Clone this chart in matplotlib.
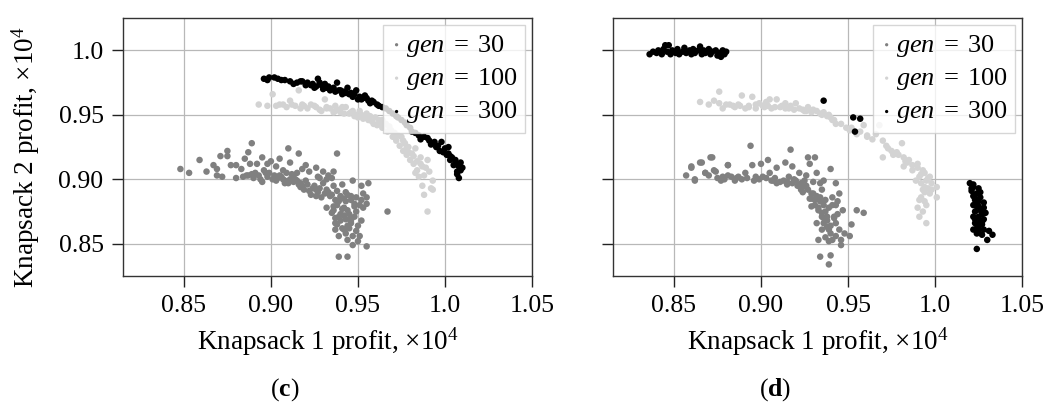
import numpy as np
import matplotlib
matplotlib.use('Agg')
import matplotlib.pyplot as plt

plt.rcParams['font.family'] = ['Liberation Serif', 'DejaVu Serif']
plt.rcParams['mathtext.fontset'] = 'custom'
plt.rcParams['mathtext.rm'] = 'Liberation Serif'
plt.rcParams['mathtext.it'] = 'Liberation Serif:italic'
plt.rcParams['mathtext.bf'] = 'Liberation Serif:bold'

# panel (c)
c30_x = [0.848, 0.853, 0.859, 0.863, 0.867, 0.871, 0.875, 0.875, 0.877, 0.880, 0.869, 0.872, 0.880,
         0.885, 0.887, 0.889, 0.892, 0.895, 0.898, 0.900, 0.905, 0.910, 0.916, 0.911, 0.920, 0.926,
         0.930, 0.936, 0.938, 0.886, 0.889, 0.894, 0.897, 0.901, 0.903, 0.907, 0.910, 0.913, 0.916,
         0.917, 0.920, 0.922, 0.925, 0.927, 0.930, 0.932, 0.934, 0.936, 0.938, 0.941, 0.940, 0.943,
         0.947, 0.949, 0.952, 0.956, 0.955, 0.955, 0.932, 0.935, 0.937, 0.937, 0.939, 0.941, 0.943,
         0.945, 0.946, 0.937, 0.939, 0.944, 0.947, 0.949, 0.951, 0.955, 0.939, 0.944, 0.948, 0.949,
         0.936, 0.939, 0.929, 0.926, 0.923, 0.919, 0.917, 0.914, 0.912, 0.909, 0.905, 0.899, 0.896,
         0.891, 0.887, 0.895, 0.908, 0.928, 0.932, 0.935, 0.943, 0.946, 0.952, 0.950, 0.942, 0.967,
         0.884, 0.890, 0.893, 0.898, 0.902, 0.904, 0.906, 0.908, 0.911, 0.913, 0.915, 0.918, 0.921,
         0.924, 0.926, 0.928, 0.931, 0.933, 0.935, 0.937, 0.940, 0.942, 0.944, 0.946, 0.948, 0.951,
         0.953, 0.940, 0.942, 0.944, 0.946, 0.938, 0.940, 0.942, 0.944, 0.946, 0.948, 0.941, 0.943,
         0.945, 0.947, 0.936, 0.938, 0.950, 0.952, 0.953, 0.883, 0.888, 0.903, 0.907, 0.915, 0.922,
         0.927, 0.933, 0.918, 0.869]
c30_y = [0.908, 0.905, 0.915, 0.906, 0.911, 0.918, 0.922, 0.918, 0.911, 0.911, 0.903, 0.902, 0.901,
         0.916, 0.921, 0.928, 0.912, 0.917, 0.912, 0.914, 0.916, 0.924, 0.920, 0.913, 0.911, 0.909,
         0.906, 0.906, 0.920, 0.903, 0.904, 0.900, 0.905, 0.900, 0.899, 0.900, 0.897, 0.903, 0.896,
         0.894, 0.899, 0.891, 0.895, 0.890, 0.897, 0.892, 0.887, 0.895, 0.891, 0.896, 0.886, 0.883,
         0.899, 0.886, 0.895, 0.897, 0.886, 0.881, 0.878, 0.874, 0.870, 0.866, 0.871, 0.877, 0.869,
         0.873, 0.866, 0.861, 0.856, 0.853, 0.849, 0.860, 0.856, 0.848, 0.840, 0.840, 0.879, 0.875,
         0.879, 0.883, 0.886, 0.887, 0.888, 0.892, 0.897, 0.900, 0.904, 0.905, 0.903, 0.905, 0.907,
         0.905, 0.903, 0.898, 0.897, 0.901, 0.900, 0.901, 0.890, 0.887, 0.884, 0.864, 0.861, 0.875,
         0.902, 0.901, 0.903, 0.902, 0.903, 0.901, 0.902, 0.899, 0.900, 0.898, 0.899, 0.895, 0.896,
         0.893, 0.892, 0.893, 0.889, 0.890, 0.888, 0.884, 0.887, 0.885, 0.888, 0.884, 0.881, 0.880,
         0.889, 0.873, 0.878, 0.876, 0.870, 0.880, 0.868, 0.872, 0.864, 0.868, 0.871, 0.862, 0.858,
         0.862, 0.856, 0.876, 0.865, 0.852, 0.868, 0.878, 0.908, 0.912, 0.910, 0.907, 0.905, 0.906,
         0.902, 0.903, 0.908, 0.908]

c100_x = [0.893, 0.898, 0.901, 0.907, 0.911, 0.916, 0.912, 0.917, 0.919, 0.923, 0.926, 0.931, 0.929,
          0.932, 0.937, 0.940, 0.943, 0.945, 0.948, 0.950, 0.953, 0.956, 0.959, 0.961, 0.964, 0.967,
          0.970, 0.972, 0.974, 0.976, 0.978, 0.980, 0.981, 0.982, 0.983, 0.984, 0.987, 0.985, 0.988,
          0.991, 0.987, 0.992, 0.988, 0.990, 0.993, 0.990, 0.986, 0.976, 0.964, 0.960, 0.955, 0.951,
          0.947, 0.941, 0.937, 0.932, 0.905, 0.993,
          0.903, 0.909, 0.914, 0.918, 0.921, 0.925, 0.928, 0.934, 0.936, 0.939, 0.942, 0.946, 0.949,
          0.952, 0.954, 0.957, 0.958, 0.962, 0.963, 0.966, 0.968, 0.969, 0.971, 0.973, 0.975, 0.977,
          0.979, 0.982, 0.979, 0.984, 0.986, 0.989, 0.983, 0.978]
c100_y = [0.958, 0.957, 0.966, 0.958, 0.961, 0.969, 0.958, 0.955, 0.957, 0.958, 0.956, 0.962, 0.953,
          0.955, 0.953, 0.952, 0.956, 0.951, 0.949, 0.948, 0.947, 0.946, 0.943, 0.942, 0.940, 0.937,
          0.933, 0.930, 0.926, 0.922, 0.919, 0.915, 0.920, 0.912, 0.924, 0.907, 0.910, 0.902, 0.903,
          0.906, 0.895, 0.893, 0.888, 0.875, 0.899, 0.915, 0.917, 0.930, 0.946, 0.948, 0.951, 0.953,
          0.953, 0.956, 0.957, 0.956, 0.958, 0.892,
          0.957, 0.956, 0.957, 0.958, 0.955, 0.957, 0.954, 0.955, 0.952, 0.954, 0.951, 0.952, 0.950,
          0.950, 0.948, 0.949, 0.945, 0.946, 0.944, 0.943, 0.941, 0.938, 0.936, 0.934, 0.933, 0.928,
          0.925, 0.918, 0.921, 0.914, 0.912, 0.909, 0.905, 0.925]

c300_x = [0.896, 0.899, 0.902, 0.906, 0.911, 0.915, 0.918, 0.921, 0.924, 0.927, 0.929, 0.932, 0.935,
          0.938, 0.939, 0.942, 0.944, 0.945, 0.948, 0.951, 0.954, 0.956, 0.959, 0.936, 0.931, 0.925,
          0.949, 0.952, 0.961, 0.964, 0.968, 0.972, 0.975, 0.978, 0.981, 0.985, 0.988, 0.991, 0.994,
          0.996, 0.998, 1.000, 1.002, 1.002, 1.004, 1.006, 1.005, 1.008, 1.007, 1.009, 1.008, 1.003,
          1.001, 0.997,
          0.898, 0.904, 0.908, 0.913, 0.917, 0.920, 0.923, 0.926, 0.928, 0.930, 0.933, 0.934, 0.937,
          0.940, 0.941, 0.943, 0.946, 0.947, 0.950, 0.953, 0.955, 0.957, 0.958, 0.962, 0.966, 0.970,
          0.973, 0.977, 0.980, 0.983, 0.986, 0.990, 0.992, 0.995, 0.999, 1.003, 1.006, 1.009, 1.007,
          1.010]
c300_y = [0.978, 0.979, 0.979, 0.977, 0.976, 0.975, 0.976, 0.975, 0.974, 0.978, 0.973, 0.971, 0.970,
          0.975, 0.969, 0.968, 0.971, 0.966, 0.966, 0.964, 0.965, 0.961, 0.960, 0.971, 0.974, 0.971,
          0.969, 0.962, 0.958, 0.956, 0.953, 0.949, 0.946, 0.942, 0.937, 0.934, 0.933, 0.930, 0.929,
          0.926, 0.929, 0.924, 0.925, 0.920, 0.917, 0.915, 0.911, 0.910, 0.904, 0.907, 0.901, 0.915,
          0.919, 0.922,
          0.977, 0.978, 0.977, 0.974, 0.976, 0.973, 0.973, 0.972, 0.975, 0.970, 0.972, 0.969, 0.968,
          0.969, 0.966, 0.967, 0.967, 0.964, 0.962, 0.963, 0.963, 0.959, 0.961, 0.957, 0.955, 0.951,
          0.948, 0.944, 0.940, 0.936, 0.931, 0.932, 0.927, 0.925, 0.921, 0.918, 0.912, 0.913, 0.906,
          0.909]

# panel (d)
d30_x = [0.857, 0.860, 0.866, 0.872, 0.862, 0.868, 0.874, 0.881, 0.894, 0.860, 0.865, 0.871, 0.862,
         0.868, 0.873, 0.877, 0.881, 0.881, 0.885, 0.891, 0.895, 0.896, 0.900, 0.901, 0.904, 0.907,
         0.909, 0.914, 0.913, 0.917, 0.918, 0.920, 0.924, 0.926, 0.927, 0.928, 0.931, 0.932, 0.934,
         0.929, 0.931, 0.933, 0.935, 0.932, 0.935, 0.933, 0.937, 0.935, 0.937, 0.939, 0.940, 0.942,
         0.943, 0.944, 0.945, 0.947, 0.946, 0.946, 0.952, 0.951, 0.955, 0.959, 0.934, 0.940, 0.939,
         0.916, 0.922, 0.905, 0.887, 0.878, 0.909, 0.915, 0.923, 0.928, 0.929, 0.936, 0.939, 0.943,
         0.948, 0.938, 0.941, 0.945, 0.936, 0.943, 0.934, 0.930, 0.925, 0.941,
         0.870, 0.875, 0.879, 0.883, 0.886, 0.889, 0.892, 0.897, 0.899, 0.903, 0.906, 0.908, 0.911,
         0.915, 0.918, 0.921, 0.919, 0.923, 0.926, 0.924, 0.927, 0.930, 0.929, 0.932, 0.934, 0.931,
         0.933, 0.936, 0.935, 0.937, 0.938, 0.936, 0.940, 0.938, 0.942, 0.940, 0.944, 0.939, 0.943,
         0.941]
d30_y = [0.903, 0.909, 0.913, 0.917, 0.899, 0.905, 0.906, 0.911, 0.926, 0.910, 0.913, 0.917, 0.900,
         0.905, 0.907, 0.899, 0.911, 0.903, 0.899, 0.905, 0.911, 0.899, 0.912, 0.902, 0.915, 0.899,
         0.909, 0.913, 0.899, 0.923, 0.910, 0.899, 0.894, 0.903, 0.917, 0.912, 0.917, 0.905, 0.897,
         0.889, 0.884, 0.876, 0.871, 0.866, 0.861, 0.853, 0.855, 0.892, 0.884, 0.878, 0.908, 0.871,
         0.897, 0.883, 0.861, 0.876, 0.853, 0.849, 0.865, 0.856, 0.876, 0.874, 0.840, 0.841, 0.834,
         0.902, 0.905, 0.905, 0.902, 0.902, 0.897, 0.896, 0.892, 0.885, 0.879, 0.866, 0.861, 0.866,
         0.858, 0.871, 0.886, 0.889, 0.899, 0.880, 0.886, 0.898, 0.899, 0.853,
         0.903, 0.901, 0.900, 0.902, 0.901, 0.900, 0.901, 0.902, 0.900, 0.901, 0.899, 0.901, 0.898,
         0.898, 0.897, 0.895, 0.900, 0.897, 0.895, 0.890, 0.892, 0.889, 0.885, 0.887, 0.883, 0.880,
         0.878, 0.880, 0.874, 0.875, 0.868, 0.870, 0.864, 0.863, 0.870, 0.858, 0.873, 0.852, 0.856,
         0.880]

d100_x = [0.865, 0.876, 0.876, 0.878, 0.884, 0.889, 0.888, 0.891, 0.895, 0.897, 0.899, 0.902, 0.905,
          0.906, 0.909, 0.911, 0.914, 0.917, 0.920, 0.922, 0.927, 0.929, 0.932, 0.936, 0.938, 0.940,
          0.943, 0.951, 0.955, 0.959, 0.961, 0.966, 0.970, 0.973, 0.978, 0.982, 0.985, 0.990, 0.993,
          0.991, 0.995, 0.998, 1.001, 0.993, 0.997, 1.001, 0.991, 0.995, 0.993, 0.991, 0.995, 0.982,
          0.987, 0.976, 0.970, 0.880, 0.885, 0.893, 0.903, 0.914, 0.925, 0.934, 0.941, 0.946, 0.949,
          0.984, 0.989, 0.994, 0.997, 0.952, 0.961, 0.968, 0.981,
          0.870, 0.873, 0.882, 0.887, 0.893, 0.897, 0.901, 0.904, 0.908, 0.912, 0.916, 0.919, 0.924,
          0.926, 0.930, 0.935, 0.939, 0.942, 0.957, 0.964, 0.972, 0.975, 0.979, 0.983, 0.987, 0.990,
          0.992, 0.994, 0.996, 0.992, 0.994, 0.996, 0.998, 0.992, 0.994, 0.990]
d100_y = [0.960, 0.968, 0.959, 0.955, 0.957, 0.965, 0.957, 0.955, 0.964, 0.955, 0.959, 0.956, 0.962,
          0.955, 0.962, 0.956, 0.955, 0.957, 0.959, 0.955, 0.956, 0.952, 0.953, 0.952, 0.949, 0.948,
          0.943, 0.938, 0.935, 0.942, 0.933, 0.935, 0.930, 0.924, 0.921, 0.917, 0.915, 0.912, 0.907,
          0.902, 0.899, 0.897, 0.894, 0.892, 0.889, 0.886, 0.884, 0.880, 0.875, 0.871, 0.866, 0.910,
          0.907, 0.919, 0.917, 0.958, 0.956, 0.956, 0.960, 0.959, 0.953, 0.951, 0.946, 0.943, 0.940,
          0.913, 0.899, 0.894, 0.902, 0.940, 0.934, 0.942, 0.928,
          0.958, 0.961, 0.958, 0.958, 0.957, 0.958, 0.957, 0.957, 0.956, 0.957, 0.955, 0.954, 0.954,
          0.953, 0.954, 0.950, 0.950, 0.946, 0.937, 0.931, 0.926, 0.922, 0.919, 0.914, 0.911, 0.909,
          0.904, 0.905, 0.901, 0.897, 0.890, 0.893, 0.892, 0.886, 0.883, 0.878]

d300_x = [0.836, 0.838, 0.840, 0.841, 0.843, 0.844, 0.845, 0.847, 0.846, 0.848, 0.849, 0.851, 0.852,
          0.853, 0.855, 0.856, 0.857, 0.859, 0.860, 0.861, 0.862, 0.864, 0.865, 0.866, 0.867, 0.868,
          0.870, 0.871, 0.872, 0.874, 0.875, 0.876, 0.877, 0.879, 0.880, 0.878,
          0.936, 0.953, 0.957, 0.954,
          1.020, 1.022, 1.021, 1.024, 1.026, 1.023, 1.028, 1.024, 1.028, 1.023, 1.029, 1.025, 1.028,
          1.023, 1.027, 1.024, 1.028, 1.024, 1.027, 1.031, 1.033, 1.030, 1.024, 1.022, 1.025, 1.022,
          1.025, 1.022, 1.026, 1.022, 1.026, 1.022, 1.025, 1.021, 1.023, 1.025, 1.027, 1.023, 1.025,
          1.027, 1.024, 1.026]
d300_y = [0.997, 0.999, 0.998, 1.000, 0.997, 1.001, 1.004, 1.004, 0.999, 0.997, 1.000, 0.998, 1.001,
          0.997, 0.999, 1.002, 0.998, 1.000, 0.997, 1.001, 0.998, 1.000, 1.003, 0.997, 1.000, 0.998,
          1.001, 0.997, 0.999, 1.000, 0.996, 0.998, 0.995, 0.997, 0.999, 1.000,
          0.961, 0.948, 0.947, 0.937,
          0.897, 0.894, 0.891, 0.889, 0.886, 0.884, 0.882, 0.879, 0.878, 0.875, 0.874, 0.871, 0.869,
          0.866, 0.865, 0.862, 0.861, 0.858, 0.857, 0.860, 0.857, 0.853, 0.846, 0.896, 0.893, 0.887,
          0.883, 0.880, 0.876, 0.871, 0.867, 0.861, 0.860, 0.893, 0.885, 0.879, 0.873, 0.869, 0.863,
          0.867, 0.881, 0.890]

gens = ['30', '100', '300']
colors = ['#808080', '#d3d3d3', '#000000']
xticks = [0.85, 0.90, 0.95, 1.0, 1.05]
xticklabels = ['0.85', '0.90', '0.95', '1.0', '1.05']
yticks = [0.85, 0.90, 0.95, 1.0]
yticklabels = ['0.85', '0.90', '0.95', '1.0']

panels = [
    ([c30_x, c100_x, c300_x], [c30_y, c100_y, c300_y], r'($\mathbf{c}$)'),
    ([d30_x, d100_x, d300_x], [d30_y, d100_y, d300_y], r'($\mathbf{d}$)'),
]

fig = plt.figure(figsize=(10.61, 4.08), dpi=100)
lefts = [0.1159, 0.5778]
cap_x = [0.2686, 0.7305]

for i, (xs, ys, cap) in enumerate(panels):
    ax = fig.add_axes([lefts[i], 0.3235, 0.3855, 0.632])
    ax.set_axisbelow(True)
    ax.grid(True, color='#b8b8b8', linewidth=0.9)
    for x, y, g, c in zip(xs, ys, gens, colors):
        ax.scatter(x, y, s=22, color=c, edgecolors='none', label=r'$gen\;=\;' + g + '$')
    ax.set_xlim(0.815, 1.05)
    ax.set_ylim(0.825, 1.025)
    ax.set_xticks(xticks)
    ax.set_xticklabels(xticklabels)
    ax.set_yticks(yticks)
    if i == 0:
        ax.set_yticklabels(yticklabels)
        ax.set_ylabel(r'Knapsack 2 profit, $\times10^4$', fontsize=19.5)
        ax.yaxis.set_label_coords(-0.197, 0.46)
    else:
        ax.set_yticklabels([])
    ax.set_xlabel(r'Knapsack 1 profit, $\times10^4$', fontsize=19.5, labelpad=6)
    ax.tick_params(direction='out', length=8, width=1, labelsize=18.5, pad=6, color='#222222')
    for sp in ax.spines.values():
        sp.set_color('#333333')
        sp.set_linewidth(1)
    ax.legend(loc='upper right', fontsize=19, markerscale=0.5, handletextpad=0.15,
              handlelength=0.4, borderaxespad=0.25, labelspacing=0.28, borderpad=0.3,
              fancybox=False, framealpha=0.8, edgecolor='#cccccc')
    fig.text(cap_x[i], 0.045, cap, ha='center', va='center', fontsize=18.5)

fig.savefig('out.png', dpi=100)
